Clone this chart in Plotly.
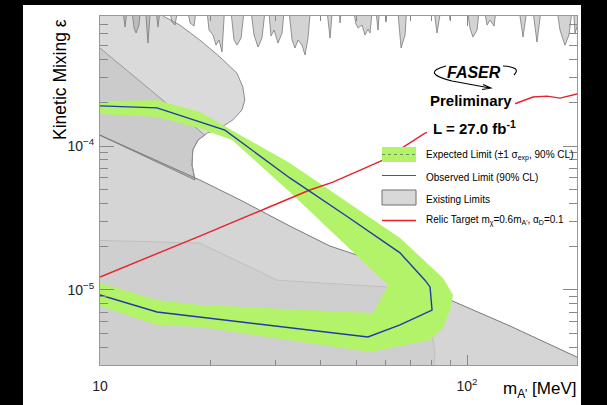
import plotly.graph_objects as go

# ---------------- data (mass in MeV, kinetic mixing epsilon) ----------------
obs_mass = [10, 14.3, 21.9, 32.9, 46.5, 65.7, 76.8, 79.3, 80.3, 65.7, 53.7, 18.7, 14.3, 10]
obs_eps = [1.90e-4, 1.84e-4, 1.29e-4, 6.0e-5, 3.32e-5, 1.81e-5, 1.17e-5, 1.05e-5, 7.26e-6,
           5.72e-6, 4.72e-6, 6.49e-6, 7.03e-6, 9.23e-6]

exp_band_mass = [10, 14.3, 18.7, 25.6, 32.9, 65.7, 86.0, 91.6, 89.9, 86.0, 79.3, 65.7, 54.4,
                 18.7, 14.3, 10, 10, 14.3, 18.7, 55.5, 60.9, 32.9, 22.9, 18.7, 14.3, 10]
exp_band_eps = [2.05e-4, 2.08e-4, 1.72e-4, 1.10e-4, 7.62e-5, 2.30e-5, 1.21e-5, 9.23e-6, 7.26e-6,
                5.45e-6, 4.50e-6, 4.08e-6, 3.71e-6, 5.53e-6, 5.72e-6, 7.75e-6, 1.12e-5, 8.53e-6,
                7.87e-6, 6.92e-6, 1.08e-5, 4.80e-5, 1.10e-4, 1.33e-4, 1.59e-4, 1.67e-4]

relic_mass = [10, 12.6, 18.7, 28.5, 37.3, 43.1, 59.0, 69.9, 76.8, 136.8, 151.3, 165.2, 179.2, 199.4, 205]
relic_eps = [1.23e-5, 1.56e-5, 2.37e-5, 3.71e-5, 4.95e-5, 5.62e-5, 7.99e-5, 1.05e-4, 1.23e-4,
             1.99e-4, 2.19e-4, 2.22e-4, 2.15e-4, 2.30e-4, 2.32e-4]

# collider limits hanging from the top (lower envelope)
top_mass = [9, 11.48, 11.70, 11.92, 12.15, 12.38, 12.54, 12.77, 12.94, 13.26, 13.51, 13.77,
            14.12, 14.39, 14.66, 15.32, 15.71, 16.01, 16.42, 17.16, 17.59, 18.04, 18.38,
            19.45, 19.82, 20.32, 20.71, 21.10, 21.50, 21.91, 22.61, 23.18, 23.62, 24.23, 24.84,
            25.63, 26.28, 26.95, 27.63, 28.34, 28.70, 29.24, 29.80, 30.55, 31.33, 31.92,
            32.53, 33.37, 33.99, 34.64, 35.52, 36.19, 36.88, 37.58, 41.30, 42.35, 43.15,
            44.80, 45.08, 45.64, 48.60, 49.83, 50.47, 51.76, 52.72, 53.73, 54.42, 55.46,
            56.15, 57.23, 57.94, 59.79, 60.17, 60.93, 64.48, 66.12, 67.80, 68.65, 80.79,
            82.84, 85.48, 89.33, 89.90, 90.46, 99.38, 101.9, 103.8, 106.5, 108.5, 110.6,
            113.4, 115.5, 118.5, 120.7, 137.7, 142.1, 146.6, 150.3, 155.1, 160.1, 174.8,
            179.2, 184.9, 189.6, 194.5, 196.9, 199.4, 205, 205, 9]
top_eps = [1e-3, 1e-3, 6.70e-4, 1e-3, 1e-3, 6.60e-4, 6.09e-4, 6.92e-4, 1e-3, 1e-3, 5.19e-4, 1e-3,
           1e-3, 6.70e-4, 1e-3, 1e-3, 7.26e-4, 6.92e-4, 1e-3, 1e-3, 7.15e-4, 6.81e-4, 1e-3,
           1e-3, 6.39e-4, 5.90e-4, 5.02e-4, 5.45e-4, 4.50e-4, 1e-3, 1e-3, 5.45e-4, 5.02e-4, 5.62e-4, 1e-3,
           1e-3, 5.90e-4, 4.87e-4, 5.62e-4, 1e-3, 1e-3, 5.81e-4, 6.39e-4, 5.19e-4, 6.09e-4, 1e-3,
           1e-3, 5.45e-4, 4.79e-4, 5.45e-4, 5.02e-4, 4.29e-4, 5.62e-4, 1e-3, 1e-3, 5.62e-4, 1e-3,
           1e-3, 7.15e-4, 1e-3, 1e-3, 7.03e-4, 6.60e-4, 6.92e-4, 5.90e-4, 6.49e-4, 6.09e-4, 1e-3,
           1e-3, 6.39e-4, 1e-3, 1e-3, 7.26e-4, 1e-3, 1e-3, 4.79e-4, 5.90e-4, 1e-3, 1e-3,
           6.09e-4, 1e-3, 1e-3, 7.50e-4, 1e-3, 1e-3, 6.60e-4, 5.71e-4, 6.39e-4, 1e-3, 1e-3,
           6.92e-4, 7.50e-4, 6.81e-4, 1e-3, 1e-3, 5.71e-4, 1e-3, 1e-3, 5.27e-4, 1e-3, 1e-3,
           6.39e-4, 5.02e-4, 5.90e-4, 1e-3, 6.09e-4, 6.70e-4, 1e-3, 2e-3, 2e-3]

# upper-left (elliptic) beam-dump limit
ell_mass = [9.4, 14.3, 14.85, 16.5, 18.7, 21.23, 23.6, 24.5, 24.8, 24.37, 23.03, 21.23, 19.6,
            18.49, 17.9, 17.81, 18.15, 10, 9.4]
ell_eps = [1e-3, 1e-3, 8.0e-4, 6.92e-4, 5.45e-4, 4.15e-4, 3.21e-4, 2.57e-4, 2.09e-4, 1.78e-4,
           1.52e-4, 1.33e-4, 1.23e-4, 1.10e-4, 9.38e-5, 7.38e-5, 5.81e-5, 1.19e-4, 1.28e-4]

# overlapping wedge inside it
wedge_mass = [9.4, 10, 18.7, 19.3, 18.49, 17.9, 17.81, 18.15, 10, 9.4]
wedge_eps = [5.46e-4, 4.79e-4, 1.29e-4, 1.19e-4, 1.10e-4, 9.38e-5, 7.38e-5, 5.81e-5, 1.19e-4, 1.28e-4]

# main lower beam-dump limit
main_mass = [9.4, 10, 18.7, 24.1, 32.9, 42.3, 51.1, 61.7, 74.5, 89.9, 131, 168.4, 199.4, 216, 216, 9.4]
main_eps = [1.28e-4, 1.19e-4, 5.81e-5, 4.22e-5, 2.78e-5, 2.02e-5, 1.72e-5, 1.42e-5, 1.08e-5,
            8.53e-6, 5.62e-6, 4.15e-6, 3.42e-6, 3.11e-6, 1e-6, 1e-6]

# additional overlapping limit at bottom-left
low_mass = [9.4, 18.7, 30.4, 60.5, 74.5, 80.8, 81.8, 80.8, 80.8, 9.4]
low_eps = [2.22e-5, 2.12e-5, 1.17e-5, 1.05e-5, 7.26e-6, 4.50e-6, 3.71e-6, 2.5e-6, 1e-6, 1e-6]

x_tickvals = [10, 100]
x_ticktext = ["10", "10<sup>2</sup>"]
x_minor = [20, 30, 40, 50, 60, 70, 80, 90, 200]
y_tickvals = [1e-5, 1e-4]
y_ticktext = ["10<sup>\u22125</sup>", "10<sup>\u22124</sup>"]
y_minor = [4e-6, 5e-6, 6e-6, 7e-6, 8e-6, 9e-6, 2e-5, 3e-5, 4e-5, 5e-5, 6e-5, 7e-5, 8e-5, 9e-5,
           2e-4, 3e-4, 4e-4, 5e-4, 6e-4, 7e-4]

legend_labels = [
    "Expected Limit (\u00b11 \u03c3<sub>exp</sub>, 90% CL)",
    "Observed Limit (90% CL)",
    "Existing Limits",
    "Relic Target m<sub>\u03c7</sub>=0.6m<sub>A'</sub>, \u03b1<sub>D</sub>=0.1",
]

GREEN = "#b3f36a"
BLUE = "#2338a8"
RED = "#e8222b"
FONT = "Liberation Sans, Arial, Helvetica, sans-serif"

fig = go.Figure()


def region(xs, ys, fill, line_color, line_width=1.0):
    fig.add_trace(go.Scatter(x=xs, y=ys, mode="lines", fill="toself", fillcolor=fill,
                             line=dict(color=line_color, width=line_width),
                             hoverinfo="skip", showlegend=False))


region(ell_mass, ell_eps, "rgba(150,150,150,0.35)", "#8c8c8c")
region(wedge_mass, wedge_eps, "rgba(150,150,150,0.22)", "#8a8a8a", 0.8)
region(main_mass, main_eps, "rgba(150,150,150,0.40)", "#7a7a7a")
region(low_mass, low_eps, "rgba(100,100,100,0.05)", "rgba(120,120,120,0.3)", 0.7)
region(top_mass, top_eps, "rgba(150,150,150,0.42)", "#7a7a7a", 0.8)

fig.add_trace(go.Scatter(x=exp_band_mass, y=exp_band_eps, mode="lines", fill="toself",
                         fillcolor=GREEN, line=dict(width=0, color=GREEN),
                         hoverinfo="skip", showlegend=False))
fig.add_trace(go.Scatter(x=relic_mass, y=relic_eps, mode="lines",
                         line=dict(color=RED, width=1.4), showlegend=False))
fig.add_trace(go.Scatter(x=obs_mass, y=obs_eps, mode="lines",
                         line=dict(color=BLUE, width=1.4), showlegend=False))

# plot-area pixel helpers for decorations
L, R, T, B = 100, 577, 16, 365


def px(x):
    return (x - L) / (R - L)


def py(y):
    return (B - y) / (B - T)


shapes = []
# white box behind the "Preliminary" / luminosity text
shapes.append(dict(type="rect", xref="paper", yref="paper", x0=px(427), x1=px(515),
                   y0=py(141), y1=py(90), fillcolor="white", line_width=0, layer="above"))
# legend samples
shapes.append(dict(type="rect", xref="paper", yref="paper", x0=px(382), x1=px(416),
                   y0=py(162), y1=py(147), fillcolor=GREEN, line_width=0, layer="above"))
shapes.append(dict(type="line", xref="paper", yref="paper", x0=px(382), x1=px(416),
                   y0=py(154.5), y1=py(154.5), line=dict(color="#6f8f5a", width=1, dash="dot"),
                   layer="above"))
shapes.append(dict(type="line", xref="paper", yref="paper", x0=px(382), x1=px(416),
                   y0=py(175.5), y1=py(175.5), line=dict(color="#4848d8", width=1.2),
                   layer="above"))
shapes.append(dict(type="rect", xref="paper", yref="paper", x0=px(382), x1=px(416),
                   y0=py(205), y1=py(190), fillcolor="#d8d8d8",
                   line=dict(color="#707070", width=1), layer="above"))
shapes.append(dict(type="line", xref="paper", yref="paper", x0=px(382), x1=px(416),
                   y0=py(220.5), y1=py(220.5), line=dict(color=RED, width=1.4), layer="above"))


# FASER logo swoosh
def P(x, y):
    return f"{px(x):.5f},{py(y):.5f}"


swoosh = (f"M {P(503,66)} Q {P(522,67)} {P(514,75)} "
          f"M {P(446,66)} Q {P(420,73)} {P(452,81)} L {P(490,88)} "
          f"M {P(483,84.5)} L {P(491,88)} L {P(482,89.5)}")
shapes.append(dict(type="path", xref="paper", yref="paper", path=swoosh,
                   line=dict(color="black", width=1.1), layer="above"))
# black page border
shapes.append(dict(type="rect", xref="paper", yref="paper", x0=px(-5), x1=px(23),
                   y0=py(410), y1=py(-5), fillcolor="black", line_width=0, layer="above"))
shapes.append(dict(type="rect", xref="paper", yref="paper", x0=px(-5), x1=px(612),
                   y0=py(5), y1=py(-5), fillcolor="black", line_width=0, layer="above"))
shapes.append(dict(type="rect", xref="paper", yref="paper", x0=px(581), x1=px(612),
                   y0=py(410), y1=py(-5), fillcolor="black", line_width=0, layer="above"))

annotations = []
leg_y = [155, 177, 199, 221]
for lab, yy in zip(legend_labels, leg_y):
    annotations.append(dict(text=lab, xref="paper", yref="paper", x=px(424), y=py(yy),
                            xanchor="left", yanchor="middle", showarrow=False,
                            font=dict(family=FONT, size=10, color="black")))
annotations.append(dict(text="<b>Preliminary</b>", xref="paper", yref="paper", x=px(428), y=py(101),
                        xanchor="left", yanchor="middle", showarrow=False,
                        font=dict(family=FONT, size=15, color="black")))
annotations.append(dict(text="<b>L = 27.0 fb<sup>-1</sup></b>", xref="paper", yref="paper",
                        x=px(431), y=py(127), xanchor="left", yanchor="middle", showarrow=False,
                        font=dict(family=FONT, size=15, color="black")))
annotations.append(dict(text="<b><i>FASER</i></b>", xref="paper", yref="paper", x=px(474), y=py(72),
                        xanchor="center", yanchor="middle", showarrow=False,
                        font=dict(family=FONT, size=16, color="black")))
annotations.append(dict(text="Kinetic Mixing \u03b5", xref="paper", yref="paper", x=px(60), y=py(80),
                        xanchor="center", yanchor="middle", textangle=-90, showarrow=False,
                        font=dict(family=FONT, size=17.5, color="black")))
annotations.append(dict(text="m<sub>A'</sub> [MeV]", xref="paper", yref="paper", x=px(579), y=py(390),
                        xanchor="right", yanchor="middle", showarrow=False,
                        font=dict(family=FONT, size=17, color="black")))

fig.update_layout(
    width=607, height=405,
    margin=dict(l=L, r=607 - R, t=T, b=405 - B),
    paper_bgcolor="white", plot_bgcolor="white",
    showlegend=False,
    font=dict(family=FONT, color="black"),
    shapes=shapes, annotations=annotations,
    xaxis=dict(type="log", range=[1, 2.2997], tickmode="array", tickvals=x_tickvals,
               ticktext=x_ticktext, ticks="inside", ticklen=10, tickwidth=1, tickcolor="#888",
               showline=True, linecolor="#999", linewidth=1, mirror="ticks",
               showgrid=False, zeroline=False, ticklabelstandoff=8,
               tickfont=dict(family=FONT, size=14, color="#222"),
               minor=dict(tickmode="array", tickvals=x_minor, ticks="inside", ticklen=5,
                          tickcolor="#888", tickwidth=1, showgrid=False)),
    yaxis=dict(type="log", range=[-5.521, -3.097], tickmode="array", tickvals=y_tickvals,
               ticktext=y_ticktext, ticks="inside", ticklen=14, tickwidth=1, tickcolor="#888",
               showline=True, linecolor="#999", linewidth=1, mirror="ticks",
               showgrid=False, zeroline=False, ticklabelstandoff=2,
               tickfont=dict(family=FONT, size=14, color="#222"),
               minor=dict(tickmode="array", tickvals=y_minor, ticks="inside", ticklen=8,
                          tickcolor="#888", tickwidth=1, showgrid=False)),
)

fig.write_html("out.html", config={"displayModeBar": False},
               post_script="document.body.style.margin='0px';")
